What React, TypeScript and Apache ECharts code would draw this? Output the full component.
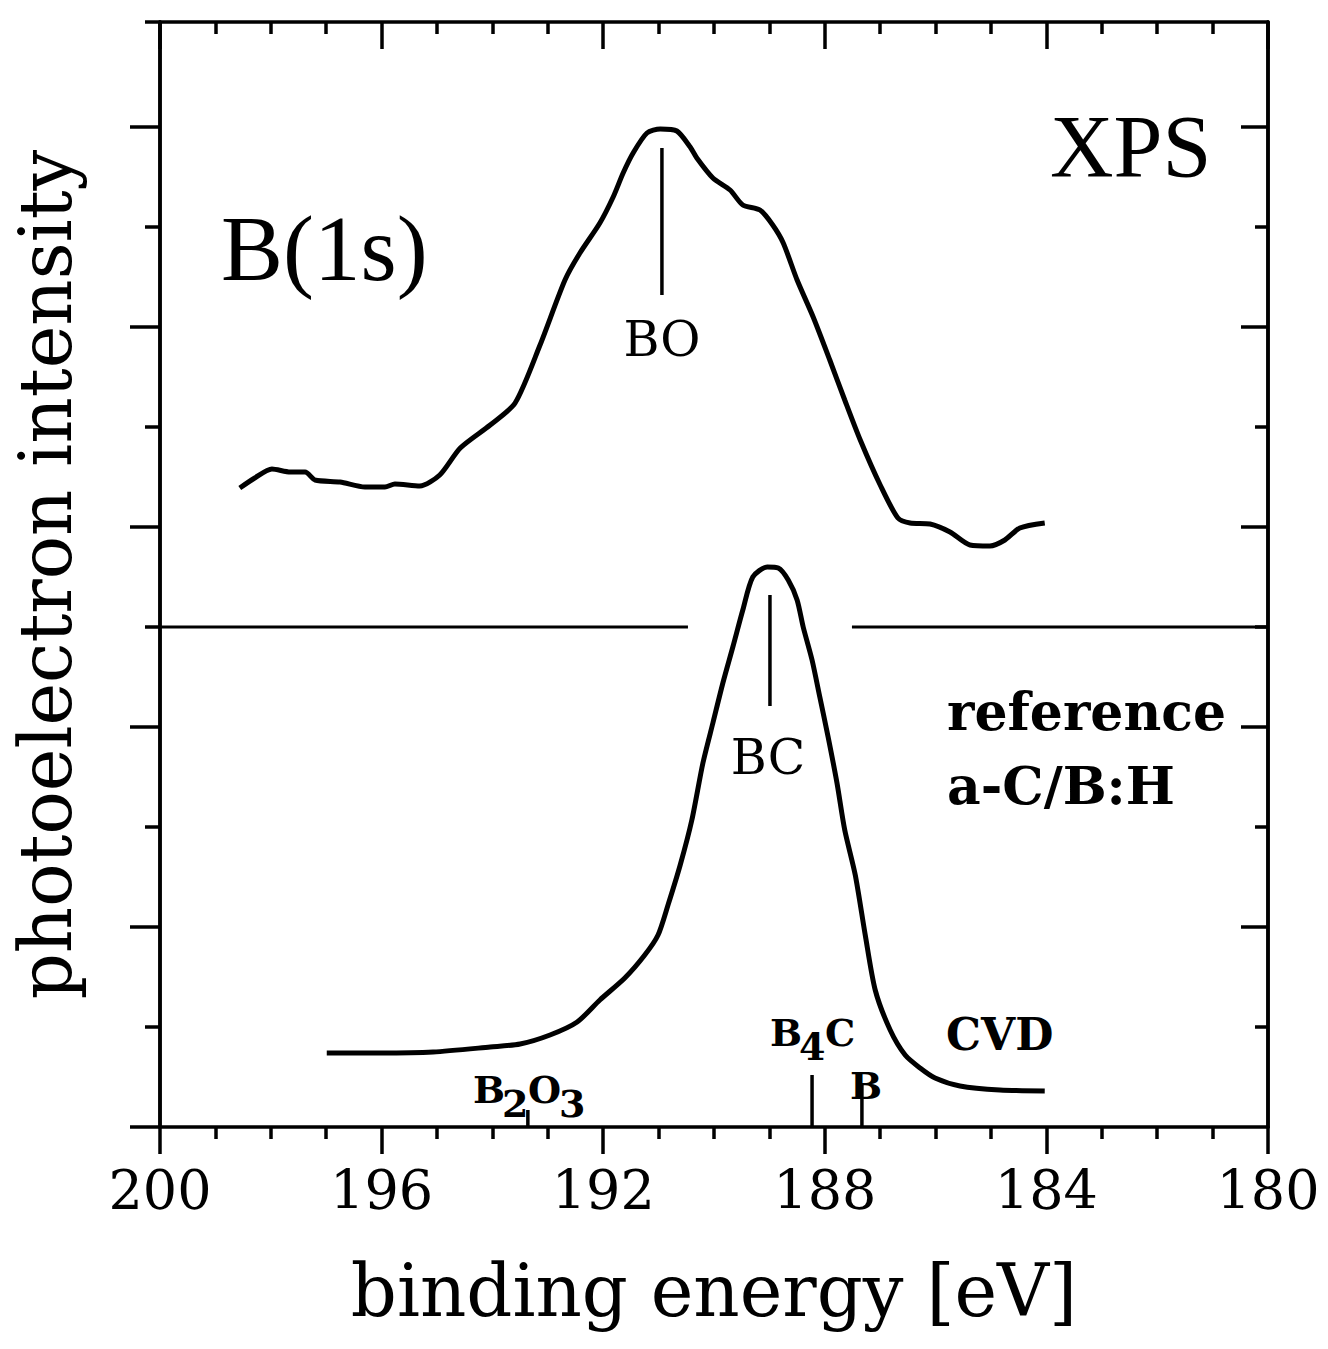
import React, { useEffect, useRef } from "react";
import * as echarts from "echarts";

// ---- data (binding energy in eV, intensity in arbitrary tick units) ----
const refEnergy = [198.56, 198.29, 197.98, 197.65, 197.38, 197.2, 196.75, 196.3, 195.94, 195.76, 195.31, 194.95, 194.58, 194.04, 193.59, 193.14, 192.69, 192.42, 192.06, 191.82, 191.64, 191.46, 191.21, 190.97, 190.67, 190.43, 190.31, 190.02, 189.71, 189.48, 189.17, 188.94, 188.75, 188.5, 188.21, 187.91, 187.64, 187.36, 187.0, 186.68, 186.46, 186.1, 185.74, 185.38, 185.02, 184.75, 184.48, 184.03];
const refIntensity = [6.39, 6.49, 6.58, 6.55, 6.55, 6.47, 6.45, 6.4, 6.4, 6.43, 6.41, 6.52, 6.79, 7.02, 7.24, 7.82, 8.47, 8.74, 9.04, 9.3, 9.54, 9.74, 9.94, 9.98, 9.96, 9.8, 9.69, 9.49, 9.37, 9.22, 9.17, 9.02, 8.84, 8.47, 8.1, 7.67, 7.27, 6.87, 6.42, 6.09, 6.04, 6.03, 5.95, 5.82, 5.81, 5.87, 5.99, 6.04];

const cvdEnergy = [196.99, 196.03, 195.07, 194.04, 193.5, 192.96, 192.47, 192.06, 191.61, 191.25, 191.01, 190.83, 190.61, 190.4, 190.2, 190.02, 189.84, 189.66, 189.48, 189.3, 189.04, 188.84, 188.66, 188.5, 188.39, 188.23, 188.09, 187.94, 187.78, 187.64, 187.45, 187.27, 187.09, 186.82, 186.55, 186.28, 186.01, 185.56, 184.84, 184.03];
const cvdIntensity = [0.74, 0.74, 0.75, 0.8, 0.83, 0.92, 1.05, 1.27, 1.49, 1.72, 1.92, 2.22, 2.62, 3.07, 3.64, 4.04, 4.44, 4.8, 5.17, 5.5, 5.6, 5.59, 5.47, 5.27, 5.0, 4.67, 4.3, 3.9, 3.44, 2.97, 2.52, 1.92, 1.37, 0.97, 0.72, 0.59, 0.49, 0.41, 0.37, 0.36];

// horizontal separator line between the two spectra
const separatorLevel = 5;
const separatorLeft = [200, 190.47];
const separatorRight = [187.51, 180];

// reference position markers
const markerNames = ["BO", "BC", "B4C", "B", "B2O3"];
const markerEnergy = [190.94, 188.99, 188.23, 187.33, 193.36];
const markerBottom = [8.32, 4.21, 0, 0, 0];
const markerTop = [9.79, 5.32, 0.52, 0.44, 0.17];

// axes
const xMin = 180;
const xMax = 200;
const xMajorStep = 4;
const yMin = 0;
const yMax = 11.05;
const yLongTicks = [0, 2, 4, 6, 8, 10];
const yShortTicks = [1, 3, 5, 7, 9, 11.05];
const yLongTicksRight = [2, 4, 6, 8, 10];
const yShortTicksRight = [1, 3, 5, 7, 9];

const SERIF = "DejaVu Serif";
const TIMES = "Liberation Serif";

const pair = (xs: number[], ys: number[]) => xs.map((x, i) => [x, ys[i]]);

function buildOption() {
  const axisLine = { show: true, onZero: false, lineStyle: { color: "#000", width: 3.5 } };
  const xBase = {
    type: "value",
    min: xMin,
    max: xMax,
    inverse: true,
    interval: xMajorStep,
    splitLine: { show: false },
    axisLine,
  };
  const yBase = {
    type: "value",
    min: yMin,
    max: yMax,
    splitLine: { show: false },
    axisLabel: { show: false },
    axisLine,
  };

  const series: any[] = [
    {
      name: "reference a-C/B:H",
      type: "line",
      data: pair(refEnergy, refIntensity),
      showSymbol: false,
      smooth: 0.25,
      lineStyle: { color: "#000", width: 5 },
      z: 5,
    },
    {
      name: "CVD",
      type: "line",
      data: pair(cvdEnergy, cvdIntensity),
      showSymbol: false,
      smooth: 0.25,
      lineStyle: { color: "#000", width: 5 },
      z: 5,
    },
    {
      name: "separator-left",
      type: "line",
      data: separatorLeft.map((x) => [x, separatorLevel]),
      showSymbol: false,
      lineStyle: { color: "#000", width: 3 },
    },
    {
      name: "separator-right",
      type: "line",
      data: separatorRight.map((x) => [x, separatorLevel]),
      showSymbol: false,
      lineStyle: { color: "#000", width: 3 },
    },
  ];
  markerNames.forEach((n, i) => {
    series.push({
      name: "marker-" + n,
      type: "line",
      data: [
        [markerEnergy[i], markerBottom[i]],
        [markerEnergy[i], markerTop[i]],
      ],
      showSymbol: false,
      lineStyle: { color: "#000", width: 3.5 },
    });
  });

  const txt = (x: number, y: number, text: string, size: number, family: string, weight = "normal", align = "left") => ({
    type: "text",
    x,
    y,
    z: 10,
    style: {
      text,
      fontSize: size,
      fontFamily: family,
      fontWeight: weight,
      fill: "#000",
      align,
      verticalAlign: "middle",
    },
  });

  return {
    animation: false,
    backgroundColor: "#fff",
    grid: { left: 160, top: 22, width: 1108, height: 1105, containLabel: false },
    xAxis: [
      {
        ...xBase,
        position: "bottom",
        axisTick: { show: true, length: 27, lineStyle: { color: "#000", width: 3.5 } },
        minorTick: { show: true, splitNumber: 4, length: 12, lineStyle: { color: "#000", width: 3.5 } },
        axisLabel: { show: true, margin: 36, fontSize: 54, fontFamily: SERIF, color: "#000" },
        name: "binding energy [eV]",
        nameLocation: "middle",
        nameGap: 128,
        nameTextStyle: { fontSize: 72, fontFamily: SERIF, color: "#000" },
      },
      {
        ...xBase,
        position: "top",
        axisTick: { show: true, inside: true, length: 27, lineStyle: { color: "#000", width: 3.5 } },
        minorTick: { show: true, splitNumber: 4, length: 12, lineStyle: { color: "#000", width: 3.5 } },
        axisLabel: { show: false },
      },
    ],
    yAxis: [
      {
        ...yBase,
        position: "left",
        axisTick: { show: true, length: 30, customValues: yLongTicks, lineStyle: { color: "#000", width: 3.5 } },
        name: "photoelectron intensity",
        nameLocation: "middle",
        nameGap: 78,
        nameRotate: 90,
        nameTextStyle: { fontSize: 72, fontFamily: SERIF, color: "#000" },
      },
      {
        ...yBase,
        position: "left",
        axisTick: { show: true, length: 15, customValues: yShortTicks, lineStyle: { color: "#000", width: 3.5 } },
      },
      {
        ...yBase,
        position: "right",
        axisTick: { show: true, inside: true, length: 27, customValues: yLongTicksRight, lineStyle: { color: "#000", width: 3.5 } },
      },
      {
        ...yBase,
        position: "right",
        axisTick: { show: true, inside: true, length: 13, customValues: yShortTicksRight, lineStyle: { color: "#000", width: 3.5 } },
      },
    ],
    series,
    graphic: [
      txt(221, 248, "B(1s)", 93, TIMES),
      txt(1050, 146, "XPS", 88, TIMES),
      txt(662, 339, "BO", 49, SERIF, "normal", "center"),
      txt(768, 757, "BC", 49, SERIF, "normal", "center"),
      txt(947, 711, "reference", 52, SERIF, "bold"),
      txt(947, 785, "a-C/B:H", 52, SERIF, "bold"),
      txt(946, 1034, "CVD", 44, SERIF, "bold"),
      txt(850, 1085, "B", 38, SERIF, "bold"),
      // B4C with subscript
      txt(770, 1032, "B", 38, SERIF, "bold"),
      txt(799, 1046, "4", 38, SERIF, "bold"),
      txt(825, 1032, "C", 38, SERIF, "bold"),
      // B2O3 with subscripts
      txt(473, 1089, "B", 38, SERIF, "bold"),
      txt(502, 1103, "2", 38, SERIF, "bold"),
      txt(528, 1089, "O", 38, SERIF, "bold"),
      txt(559, 1103, "3", 38, SERIF, "bold"),
    ],
  };
}

export default function App() {
  const ref = useRef<HTMLDivElement>(null);
  useEffect(() => {
    if (!ref.current) return;
    const chart = echarts.init(ref.current, null, { renderer: "svg" });
    chart.setOption(buildOption() as any);
    return () => chart.dispose();
  }, []);
  return (
    <div
      ref={ref}
      style={{ position: "fixed", left: 0, top: 0, width: 1328, height: 1349, background: "#fff" }}
    />
  );
}
